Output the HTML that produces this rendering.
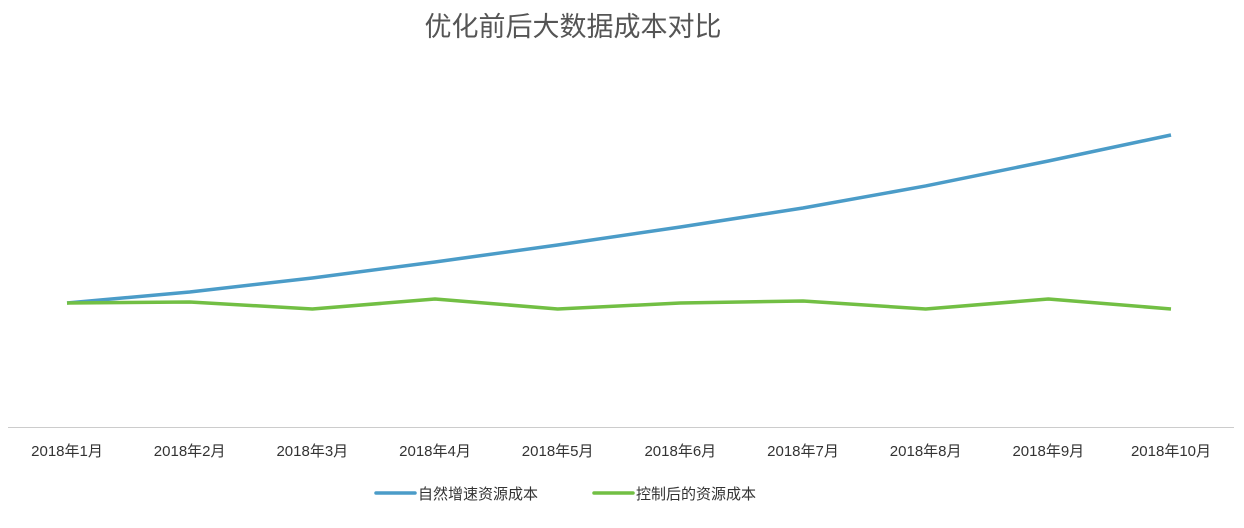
<!DOCTYPE html>
<html><head><meta charset="utf-8"><style>
html,body{margin:0;padding:0;background:#fff;width:1244px;height:528px;overflow:hidden}
text{font-family:"Liberation Sans","Noto Sans CJK SC",sans-serif}
</style></head><body>
<svg id="chart" width="1244" height="528" xmlns="http://www.w3.org/2000/svg">
<text x="573" y="36" text-anchor="middle" font-size="27" fill="#555" style="font-family:'Noto Sans CJK SC',sans-serif">优化前后大数据成本对比</text>
<line x1="8" y1="427.5" x2="1234" y2="427.5" stroke="#ccc" stroke-width="1"/>
<g id="ticks"></g>
<path id="blue" fill="none" stroke="#4b9cc8" stroke-width="3.5" stroke-linejoin="round"/>
<path id="green" fill="none" stroke="#72bf44" stroke-width="3.5" stroke-linejoin="round"/>
<g>
<g>
<line x1="376" y1="493" x2="415" y2="493" stroke="#4b9cc8" stroke-width="3.5" stroke-linecap="round"/>
<text x="418" y="499" font-size="15" fill="#333">自然增速资源成本</text></g>
<g>
<line x1="594" y1="493" x2="633" y2="493" stroke="#72bf44" stroke-width="3.5" stroke-linecap="round"/>
<text x="636" y="499" font-size="15" fill="#333">控制后的资源成本</text></g>
</g>
</svg>
<script>
const categories=["2018年1月","2018年2月","2018年3月","2018年4月","2018年5月","2018年6月","2018年7月","2018年8月","2018年9月","2018年10月"];
const naturalCost=[100,108.9,120.2,133.1,146.8,161.3,176.6,194.4,214.5,235.5];
const controlledCost=[100,100.8,95.2,103.2,95.2,100,101.6,95.2,103.2,95.2];
function xScale(i){return 67+i*(1171-67)/(categories.length-1);}
function yScale(v){return 427-v*1.24;}
const ticks=document.getElementById('ticks');
categories.forEach((c,i)=>{
 const t=document.createElementNS('http://www.w3.org/2000/svg','text');
 
 
 t.setAttribute('x',xScale(i));t.setAttribute('y',456);
 t.setAttribute('text-anchor','middle');t.setAttribute('font-size','15');t.setAttribute('fill','#333');
 t.textContent=c;ticks.appendChild(t);
});
function path(arr){return arr.map((v,i)=>(i?'L':'M')+xScale(i)+','+yScale(v)).join(' ');}
document.getElementById('blue').setAttribute('d',path(naturalCost));
document.getElementById('green').setAttribute('d',path(controlledCost));
</script>
</body></html>
